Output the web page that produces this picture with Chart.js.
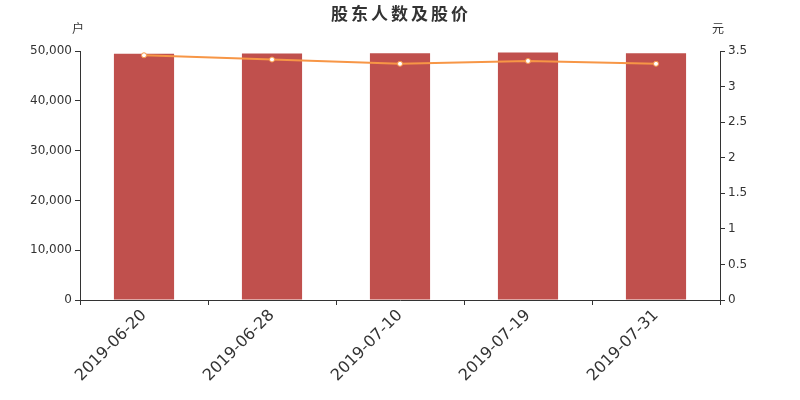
<!DOCTYPE html>
<html><head><meta charset="utf-8">
<script src="https://cdn.jsdelivr.net/npm/chart.js@4/dist/chart.umd.min.js"></script>
<style>html,body{margin:0;padding:0;background:#fff}#w{width:800px;height:400px}</style>
</head><body><div id="w"><canvas id="c" width="800" height="400"></canvas></div>
<script>
const categories = ['2019-06-20','2019-06-28','2019-07-10','2019-07-19','2019-07-31'];
const holders = [49450, 49520, 49550, 49700, 49540];
const prices = [3.44, 3.38, 3.32, 3.36, 3.32];
const leftTicks = [0, 10000, 20000, 30000, 40000, 50000];
const rightTicks = [0, 0.5, 1, 1.5, 2, 2.5, 3, 3.5];
const titleText = '股东人数及股价';
const leftUnit = '户';
const rightUnit = '元';

const txt = '#333333';
const overlay = {
  id: 'overlay',
  afterDraw(chart) {
    const ctx = chart.ctx;
    ctx.save();
    ctx.fillStyle = txt;
    ctx.textAlign = 'center';
    ctx.textBaseline = 'middle';
    ctx.font = 'bold 17px "Noto Sans CJK SC"';
    try { ctx.letterSpacing = '3px'; } catch (e) {}
    ctx.fillText(titleText, 401, 14);
    try { ctx.letterSpacing = '0px'; } catch (e) {}
    ctx.font = '12px "Noto Sans CJK SC"';
    ctx.fillText(leftUnit, chart.chartArea.left - 2, 28);
    ctx.fillText(rightUnit, chart.chartArea.right - 2, 28);
    ctx.restore();
  }
};

new Chart(document.getElementById('c'), {
  data: {
    labels: categories,
    datasets: [
      { type: 'line', data: prices, yAxisID: 'y1', borderColor: '#f79646', borderWidth: 2,
        pointRadius: 2.5, pointBackgroundColor: '#ffffff', pointBorderColor: '#f79646', pointBorderWidth: 1, tension: 0, order: 0 },
      { type: 'bar', data: holders, yAxisID: 'y', backgroundColor: '#c0504d', categoryPercentage: 0.94, barPercentage: 0.5, order: 1 }
    ]
  },
  options: {
    responsive: false, animation: false,
    layout: { padding: { top: 51, left: 0, right: 0, bottom: 0 } },
    plugins: { legend: { display: false }, title: { display: false }, tooltip: { enabled: false } },
    scales: {
      x: {
        offset: true,
        grid: { display: true, drawOnChartArea: false, drawTicks: true, tickLength: 5, color: txt, offset: true },
        border: { color: txt, width: 1 },
        ticks: { color: txt, font: { family: 'DejaVu Sans', size: 16 }, minRotation: 45, maxRotation: 45, padding: 1 },
        afterFit(s) { s.height = 100; }
      },
      y: {
        position: 'left', min: 0, max: 50000,
        afterBuildTicks(s) { s.ticks = leftTicks.map(v => ({ value: v })); },
        grid: { display: true, drawOnChartArea: false, drawTicks: true, tickLength: 5, color: txt },
        border: { color: txt, width: 1 },
        ticks: { color: txt, font: { family: 'DejaVu Sans', size: 12 }, padding: 3,
          callback: v => v.toLocaleString('en-US') },
        afterFit(s) { s.width = 80; }
      },
      y1: {
        position: 'right', min: 0, max: 3.5,
        afterBuildTicks(s) { s.ticks = rightTicks.map(v => ({ value: v })); },
        grid: { display: true, drawOnChartArea: false, drawTicks: true, tickLength: 5, color: txt },
        border: { color: txt, width: 1 },
        ticks: { color: txt, font: { family: 'DejaVu Sans', size: 12 }, padding: 3,
          callback: v => String(v) },
        afterFit(s) { s.width = 80; }
      }
    }
  },
  plugins: [overlay]
});
</script>
</body></html>
